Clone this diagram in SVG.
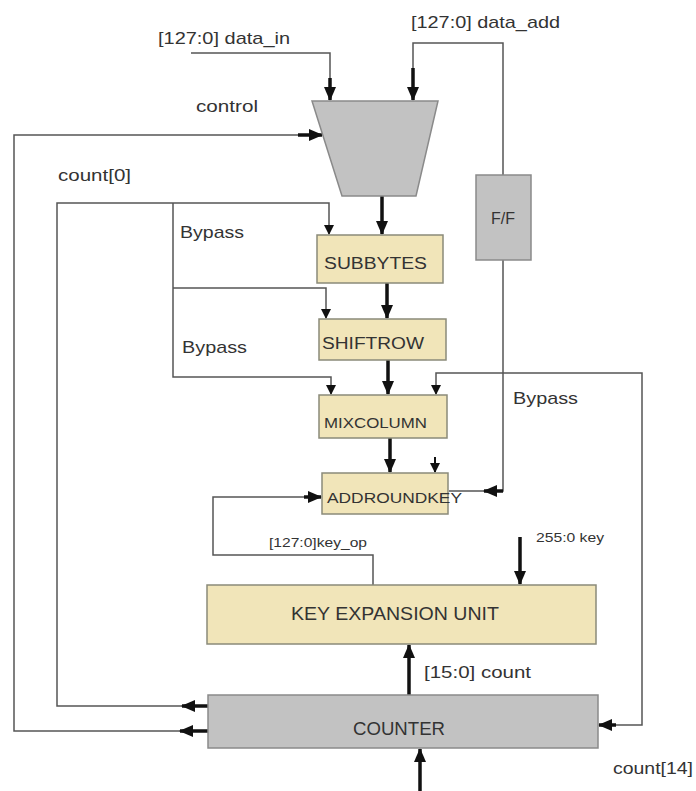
<svg xmlns="http://www.w3.org/2000/svg" width="696" height="791" viewBox="0 0 696 791">
<style>
text{font-family:"Liberation Sans",Arial,sans-serif;fill:#333}
.w{fill:none;stroke:#555;stroke-width:1.5}
.t{fill:none;stroke:#111;stroke-width:3.5}
.s{fill:none;stroke:#111;stroke-width:2}
.y{fill:#f1e5b9;stroke:#8a8a7a;stroke-width:1.5}
.g{fill:#c2c2c2;stroke:#8a8a8a;stroke-width:1.5}
</style>
<defs>
<marker id="a" markerWidth="10" markerHeight="10" refX="9" refY="5" orient="auto" markerUnits="userSpaceOnUse"><path d="M0,0 L10,5 L0,10 z" fill="#111"/></marker>
<marker id="b" markerWidth="14" markerHeight="12" refX="13" refY="6" orient="auto" markerUnits="userSpaceOnUse"><path d="M0,0 L14,6 L0,12 z" fill="#111"/></marker>
</defs>
<rect width="696" height="791" fill="#fff"/>
<g id="connectors">
<polyline class="w" points="191,53 330,53 330,80"/>
<line class="t" x1="330" y1="78" x2="330" y2="100" marker-end="url(#b)"/>
<polyline class="w" points="413,70 413,43 503,43 503,175"/>
<line class="t" x1="413" y1="68" x2="413" y2="100" marker-end="url(#b)"/>
<polyline class="w" points="190,731 14,731 14,135 300,135"/>
<line class="t" x1="298" y1="135" x2="322" y2="135" marker-end="url(#b)"/>
<line class="t" x1="208" y1="731" x2="180" y2="731" marker-end="url(#b)"/>
<polyline class="w" points="190,706 57,706 57,203 329,203 329,234" marker-end="url(#a)"/>
<line class="t" x1="208" y1="706" x2="182" y2="706" marker-end="url(#b)"/>
<polyline class="w" points="173,203 173,377 331,377 331,394" marker-end="url(#a)"/>
<polyline class="w" points="173,288 326,288 326,318" marker-end="url(#a)"/>
<line class="t" x1="382" y1="196" x2="382" y2="234" marker-end="url(#b)"/>
<line class="t" x1="387" y1="283" x2="387" y2="318" marker-end="url(#b)"/>
<line class="t" x1="388" y1="360" x2="388" y2="394" marker-end="url(#b)"/>
<line class="t" x1="390" y1="438" x2="390" y2="472" marker-end="url(#b)"/>
<line class="s" x1="435" y1="457" x2="435" y2="472" marker-end="url(#a)"/>
<polyline class="w" points="503,260 503,491 449,491"/>
<line class="t" x1="503" y1="491" x2="484" y2="491" marker-end="url(#b)"/>
<polyline class="w" points="614,725 642,725 642,373 436,373 436,394" marker-end="url(#a)"/>
<line class="t" x1="616" y1="725" x2="599" y2="725" marker-end="url(#b)"/>
<polyline class="w" points="373,585 373,555 213,555 213,497 306,497"/>
<line class="t" x1="304" y1="497" x2="321" y2="497" marker-end="url(#b)"/>
<line class="t" x1="520" y1="537" x2="520" y2="584" marker-end="url(#b)"/>
<line class="t" x1="409" y1="695" x2="409" y2="645" marker-end="url(#b)"/>
<line class="t" x1="420" y1="791" x2="420" y2="749" marker-end="url(#b)"/>
</g>
<g id="mux"><polygon class="g" points="312,101 438,101 416,196 342,196"/></g>
<g id="ff"><rect class="g" x="476" y="175" width="55" height="85"/><text x="503" y="224" font-size="16" text-anchor="middle">F/F</text></g>
<g id="subbytes"><rect class="y" x="317" y="235" width="126" height="48"/><text x="324" y="269" font-size="16" textLength="103" lengthAdjust="spacingAndGlyphs">SUBBYTES</text></g>
<g id="shiftrow"><rect class="y" x="319" y="319" width="127" height="41"/><text x="322" y="349" font-size="16" textLength="102" lengthAdjust="spacingAndGlyphs">SHIFTROW</text></g>
<g id="mixcolumn"><rect class="y" x="319" y="395" width="128" height="43"/><text x="324" y="428" font-size="15" textLength="103" lengthAdjust="spacingAndGlyphs">MIXCOLUMN</text></g>
<g id="addroundkey"><rect class="y" x="322" y="473" width="126" height="41"/><text x="327" y="503" font-size="15" textLength="135" lengthAdjust="spacingAndGlyphs">ADDROUNDKEY</text></g>
<g id="keyexp"><rect class="y" x="207" y="585" width="389" height="59"/><text x="291" y="620" font-size="19" textLength="208" lengthAdjust="spacingAndGlyphs">KEY EXPANSION UNIT</text></g>
<g id="counter"><rect class="g" x="208" y="695" width="390" height="53"/><text x="353" y="735" font-size="18" textLength="92" lengthAdjust="spacingAndGlyphs">COUNTER</text></g>
<g id="labels">
<text x="158" y="44" font-size="17" textLength="132" lengthAdjust="spacingAndGlyphs">[127:0] data_in</text>
<text x="411" y="28" font-size="17" textLength="149" lengthAdjust="spacingAndGlyphs">[127:0] data_add</text>
<text x="196" y="112" font-size="17" textLength="62" lengthAdjust="spacingAndGlyphs">control</text>
<text x="58" y="181" font-size="17" textLength="73" lengthAdjust="spacingAndGlyphs">count[0]</text>
<text x="180" y="238" font-size="17" textLength="64" lengthAdjust="spacingAndGlyphs">Bypass</text>
<text x="182" y="353" font-size="17" textLength="65" lengthAdjust="spacingAndGlyphs">Bypass</text>
<text x="513" y="404" font-size="17" textLength="65" lengthAdjust="spacingAndGlyphs">Bypass</text>
<text x="269" y="547" font-size="13" textLength="98" lengthAdjust="spacingAndGlyphs">[127:0]key_op</text>
<text x="536" y="542" font-size="13" textLength="68" lengthAdjust="spacingAndGlyphs">255:0 key</text>
<text x="424" y="678" font-size="17" textLength="107" lengthAdjust="spacingAndGlyphs">[15:0] count</text>
<text x="613" y="774" font-size="16" textLength="80" lengthAdjust="spacingAndGlyphs">count[14]</text>
</g>
</svg>
